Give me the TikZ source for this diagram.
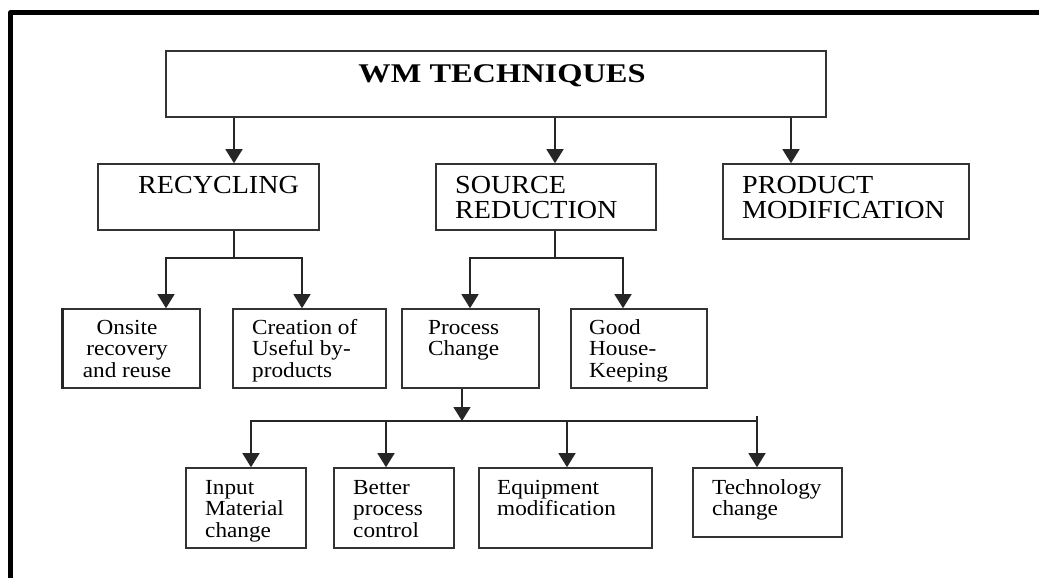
\documentclass[tikz,border=0pt]{standalone}
\usepackage{fontspec}
\setmainfont{Liberation Serif}[FakeStretch=1.08]
\newfontfamily\titlefont{Liberation Serif}[FakeStretch=1.2]
\usetikzlibrary{arrows.meta,calc}
\begin{document}
\begin{tikzpicture}[x=1pt,y=-1pt,
  box/.style={draw=black!80,line width=1.6pt,inner sep=0pt,fill=none},
  lbig/.style={inner sep=0pt,font=\fontsize{26}{25}\selectfont,align=left},
  lsmall/.style={inner sep=0pt,font=\fontsize{21.5}{21.5}\selectfont,align=left},
  ln/.style={draw=black!85,line width=1.5pt},
  arr/.style={ln,-{Triangle[width=17pt,length=14pt]}}]
\useasboundingbox (0,0) rectangle (1039,578);
% outer frame
\draw[line width=5pt,line join=round] (10.8,580) -- (10.8,12.5) -- (1045,12.5);
% boxes
\node[box,minimum width=660pt,minimum height=66pt] (top) at (496,84) {};
\node[box,minimum width=221pt,minimum height=66pt] (rec) at (208.5,197) {};
\node[box,minimum width=220pt,minimum height=66pt] (src) at (546,197) {};
\node[box,minimum width=246pt,minimum height=75pt] (prod) at (846,201.5) {};
\node[box,minimum width=137pt,minimum height=79pt] (onsite) at (131.5,348.5) {};
\node[box,minimum width=153pt,minimum height=79pt] (creat) at (309.5,348.5) {};
\node[box,minimum width=137pt,minimum height=79pt] (proc) at (470.5,348.5) {};
\node[box,minimum width=136pt,minimum height=79pt] (good) at (639,348.5) {};
\node[box,minimum width=120pt,minimum height=80pt] (input) at (246,508) {};
\node[box,minimum width=120pt,minimum height=80pt] (better) at (394,508) {};
\node[box,minimum width=173pt,minimum height=80pt] (equip) at (565.5,508) {};
\node[box,minimum width=149pt,minimum height=69pt] (tech) at (767.5,502.5) {};
\draw[line width=2.6pt,black!85] (onsite.north west) -- (onsite.south west);
% texts (base anchor = baseline of the last line)
\node[inner sep=0pt,anchor=base,font=\titlefont\bfseries\fontsize{27}{27}\selectfont] (ttop) at (502,82.5) {WM TECHNIQUES};
\node[lbig,anchor=base west] (trec) at (138,193) {RECYCLING};
\node[lbig,anchor=base west] (tsrc) at (455,218) {SOURCE\\REDUCTION};
\node[lbig,anchor=base west] (tprod) at (742,218) {PRODUCT\\MODIFICATION};
\node[lsmall,anchor=base,align=center] (tonsite) at (127,377) {Onsite\\recovery\\and reuse};
\node[lsmall,anchor=base west] (tcreat) at (252,377) {Creation of\\Useful by-\\products};
\node[lsmall,anchor=base west] (tproc) at (428,355.5) {Process\\Change};
\node[lsmall,anchor=base west] (tgood) at (589,377) {Good\\House-\\Keeping};
\node[lsmall,anchor=base west] (tinput) at (205,537) {Input\\Material\\change};
\node[lsmall,anchor=base west] (tbetter) at (353,537) {Better\\process\\control};
\node[lsmall,anchor=base west] (tequip) at (497,515.5) {Equipment\\modification};
\node[lsmall,anchor=base west] (ttech) at (712,515.5) {Technology\\change};
% connectors level 1
\draw[arr] ([xshift=25.5pt]rec.north |- top.south) -- ([xshift=25.5pt]rec.north);
\draw[arr] ([xshift=9pt]src.north |- top.south) -- ([xshift=9pt]src.north);
\draw[arr] ([xshift=-55pt]prod.north |- top.south) -- ([xshift=-55pt]prod.north);
% recycling
\coordinate (rj) at (234,258);
\draw[ln] ([xshift=25.5pt]rec.south) -- (rj);
\draw[arr] (rj) -| ([xshift=34.5pt]onsite.north);
\draw[arr] (rj) -| ([xshift=-7.5pt]creat.north);
% source reduction
\coordinate (sj) at (555,258);
\draw[ln] ([xshift=9pt]src.south) -- (sj);
\draw[arr] (sj) -| ([xshift=-0.5pt]proc.north);
\draw[arr] (sj) -| ([xshift=-16pt]good.north);
% process change
\coordinate (pj) at (462,421);
\draw[arr] ([xshift=-8.5pt]proc.south) -- (pj);
\draw[arr] (pj) -| ([xshift=5pt]input.north);
\draw[arr] (pj) -| ([xshift=-8pt]better.north);
\draw[arr] (pj) -| ([xshift=1.5pt]equip.north);
\coordinate (tk) at (757,416);
\draw[ln] (pj) -- (tk |- pj);
\draw[arr] (tk) -- ([xshift=-10.5pt]tech.north);
\end{tikzpicture}
\end{document}
